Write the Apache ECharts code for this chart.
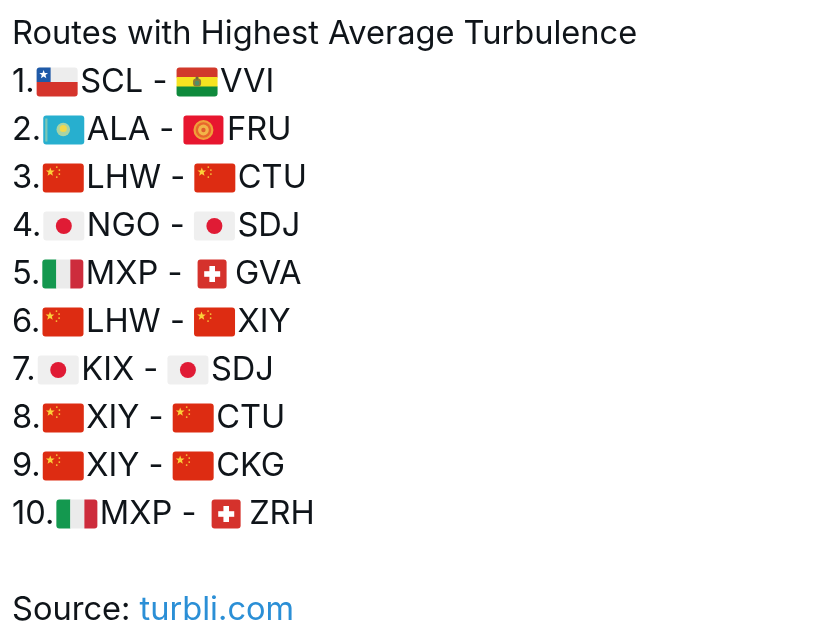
<!DOCTYPE html>
<html>
<head>
<meta charset="utf-8">
<style>html,body{margin:0;background:#fff}#chart{width:816px;height:636px}</style>
<script src="https://cdn.jsdelivr.net/npm/echarts@6/dist/echarts.min.js"></script>
</head>
<body>
<div id="chart"></div>
<script>
const titleText = 'Routes with Highest Average Turbulence';
const ranks = ['1.', '2.', '3.', '4.', '5.', '6.', '7.', '8.', '9.', '10.'];
const origins = ['SCL', 'ALA', 'LHW', 'NGO', 'MXP', 'LHW', 'KIX', 'XIY', 'XIY', 'MXP'];
const originFlags = ['cl', 'kz', 'cn', 'jp', 'it', 'cn', 'jp', 'cn', 'cn', 'it'];
const destinations = ['VVI', 'FRU', 'CTU', 'SDJ', 'GVA', 'XIY', 'SDJ', 'CTU', 'CKG', 'ZRH'];
const destinationFlags = ['bo', 'kg', 'cn', 'jp', 'ch', 'cn', 'jp', 'cn', 'cn', 'ch'];
const sourceLabel = 'Source: ';
const sourceLink = 'turbli.com';

const FONT = 'Inter';
const SIZE = 32.6;
const INK = '#0f1419';
const EMOJI_W = 43.5;
const RANK_GAP = 2;

const ctx = document.createElement('canvas').getContext('2d');
ctx.font = SIZE + 'px ' + FONT;
const textW = s => ctx.measureText(s).width;

function star(cx, cy, r, fill) {
  const points = [];
  for (let i = 0; i < 10; i++) {
    const a = -Math.PI / 2 + i * Math.PI / 5;
    const d = i % 2 ? r * 0.42 : r;
    points.push([cx + d * Math.cos(a), cy + d * Math.sin(a)]);
  }
  return { type: 'polygon', shape: { points }, style: { fill } };
}
const rect = (x, y, width, height, fill, r) =>
  ({ type: 'rect', shape: { x, y, width, height, r: r || 0 }, style: { fill } });
const circle = (cx, cy, r, fill) =>
  ({ type: 'circle', shape: { cx, cy, r }, style: { fill } });

// flags are drawn in a 41x29 box, x/y is its top left corner
function flag(kind, x, y) {
  switch (kind) {
    case 'cl':
      return [
        rect(x, y, 41, 14.5, '#ededed', [3, 3, 0, 0]),
        rect(x, y + 14.5, 41, 14.5, '#d5342c', [0, 0, 3, 3]),
        rect(x, y, 14, 14.5, '#1f5aa8', [3, 0, 0, 0]),
        star(x + 7, y + 7, 4.6, '#fff')
      ];
    case 'bo':
      return [
        rect(x, y, 41, 10, '#d1392b', [3, 3, 0, 0]),
        rect(x, y + 9.5, 41, 10, '#f6e321'),
        rect(x, y + 19, 41, 10, '#0f8a3c', [0, 0, 3, 3]),
        rect(x + 16.5, y + 11, 8, 8, '#8d7a3c', 3),
        circle(x + 20.5, y + 15.5, 2.2, '#4f8f6a'),
        circle(x + 20.5, y + 10.6, 1.6, '#6f6a3a')
      ];
    case 'kz':
      return [
        rect(x, y, 41, 29, '#27afcf', 3),
        rect(x + 2, y + 3, 2.2, 23, '#7cc6b6'),
        circle(x + 20, y + 14, 6.8, '#a9d4a4'),
        circle(x + 20, y + 13, 3.6, '#f3d84a')
      ];
    case 'kg':
      return [
        rect(x, y, 40, 29, '#e7162f', 3),
        circle(x + 20, y + 14.5, 10, '#f0a03a'),
        circle(x + 20, y + 14.5, 7.8, '#e8662c'),
        circle(x + 20, y + 14.5, 5.4, '#f2b548'),
        circle(x + 20, y + 14.5, 2.2, '#e0602c')
      ];
    case 'cn':
      return [
        rect(x, y, 41, 29, '#dd2c12', 3),
        star(x + 7.5, y + 8.5, 4.6, '#fbd13a'),
        circle(x + 14, y + 3.6, 0.9, '#f7c53a'),
        circle(x + 16.6, y + 6.6, 0.9, '#f7c53a'),
        circle(x + 16.6, y + 10.6, 0.9, '#f7c53a'),
        circle(x + 14, y + 13.6, 0.9, '#f7c53a')
      ];
    case 'jp':
      return [
        rect(x, y, 41, 29, '#efefef', 3),
        circle(x + 20.5, y + 14.5, 8, '#e01b35')
      ];
    case 'it':
      return [
        rect(x, y, 14, 29, '#14984f', [3, 0, 0, 3]),
        rect(x + 14, y, 14, 29, '#ebebeb'),
        rect(x + 28, y, 13, 29, '#cd2c3c', [0, 3, 3, 0])
      ];
    case 'ch':
      return [
        rect(x + 6, y, 29, 29, '#d5322c', 3),
        rect(x + 17.8, y + 6.5, 5.6, 16, '#fff'),
        rect(x + 12.6, y + 11.7, 16, 5.6, '#fff')
      ];
  }
  return [];
}

function renderRow(params, api) {
  const i = params.dataIndex;
  const [left, mid] = api.coord([api.value(0), api.value(1)]);
  const children = [];
  const put = s => {
    children.push({
      type: 'text',
      style: { text: s, x, y: mid + 1, fill: INK, fontFamily: FONT, fontSize: SIZE, verticalAlign: 'middle' }
    });
    x += textW(s);
  };
  let x = left;
  const flagY = mid + 1 - 14.5;
  put(ranks[i]);
  x += RANK_GAP;
  children.push(...flag(originFlags[i], x, flagY));
  x += EMOJI_W;
  put(origins[i] + ' - ');
  children.push(...flag(destinationFlags[i], x, flagY));
  x += EMOJI_W;
  put(destinations[i]);
  return { type: 'group', children };
}

const chart = echarts.init(document.getElementById('chart'));
chart.setOption({
  animation: false,
  backgroundColor: '#fff',
  textStyle: { fontFamily: FONT },
  title: [
    {
      text: titleText,
      left: 12,
      top: 18,
      padding: 0,
      textStyle: { color: INK, fontSize: SIZE, fontWeight: 'normal', fontFamily: FONT }
    },
    {
      text: '{a|' + sourceLabel + '}{b|' + sourceLink + '}',
      left: 12,
      top: 594,
      padding: 0,
      textStyle: {
        fontWeight: 'normal',
        rich: {
          a: { color: INK, fontSize: SIZE, fontWeight: 'normal', fontFamily: FONT },
          b: { color: '#2b8fd6', fontSize: SIZE, fontWeight: 'normal', fontFamily: FONT }
        }
      }
    }
  ],
  grid: { left: 12, right: 0, top: 57, height: 480 },
  xAxis: { type: 'value', min: 0, max: 804, show: false },
  yAxis: { type: 'category', data: ranks, inverse: true, show: false },
  series: [{
    type: 'custom',
    renderItem: renderRow,
    silent: true,
    data: ranks.map(r => [0, r])
  }]
});
</script>
</body>
</html>
